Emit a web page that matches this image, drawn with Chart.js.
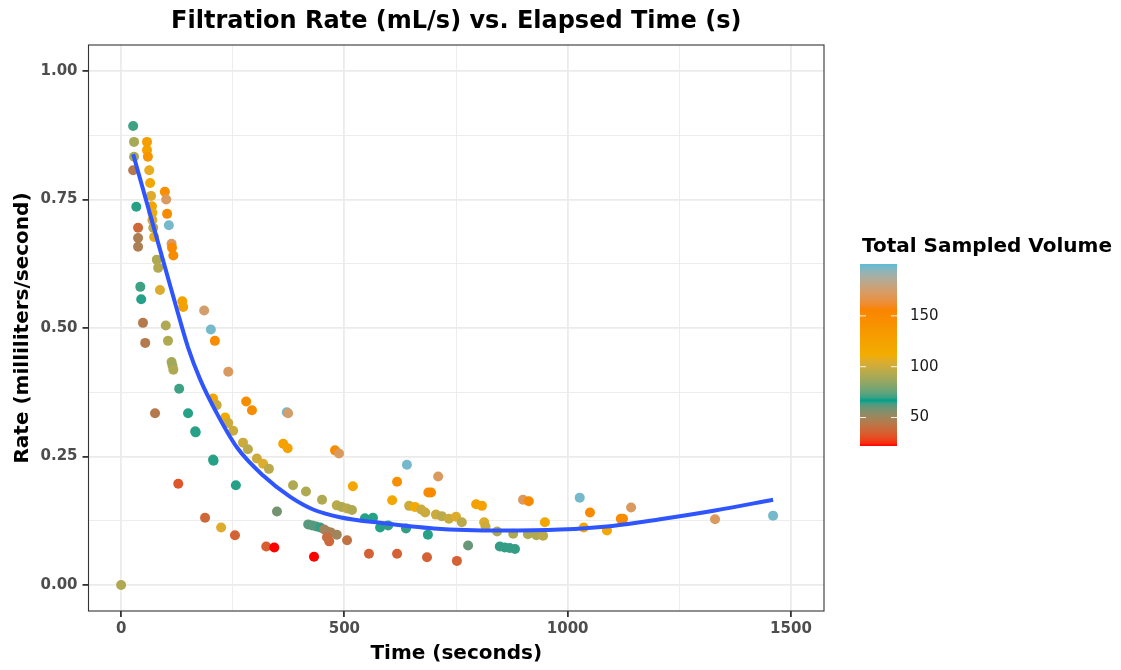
<!DOCTYPE html>
<html>
<head>
<meta charset="utf-8">
<title>Filtration Rate vs. Elapsed Time</title>
<script src="https://cdn.jsdelivr.net/npm/chart.js@4.4.1/dist/chart.umd.min.js"></script>
<style>
  html, body { margin: 0; padding: 0; background: #fff; }
  #wrap { width: 1121px; height: 670px; }
</style>
</head>
<body>
<div id="wrap"><canvas id="rateChart" width="1121" height="670"></canvas></div>
<script>
// elapsed time (s), rate (mL/s) and total sampled volume for each sample
var elapsedTime = [0, 27, 29, 29, 27, 58, 58, 60, 63, 65, 67, 69, 70, 70, 72, 74, 34, 38, 38, 38,
  98, 101, 103, 107, 113, 114, 117, 80, 83, 43, 45, 87, 137, 139, 186, 201, 210, 49, 54, 100,
  105, 113, 115, 117, 130, 240, 76, 150, 166, 167, 206, 214, 280, 293, 233, 240, 251, 273, 284, 304,
  318, 331, 206, 207, 371, 374, 363, 373, 128, 257, 349, 188, 224, 255, 325, 343, 479, 488, 385, 414,
  450, 483, 494, 506, 517, 519, 419, 428, 437, 446, 455, 462, 470, 483, 466, 461, 506, 432, 555, 546,
  564, 580, 598, 638, 687, 640, 618, 607, 710, 688, 694, 645, 658, 672, 681, 705, 718, 734, 750, 763,
  795, 808, 813, 816, 842, 878, 911, 930, 945, 949, 900, 913, 777, 848, 859, 870, 882, 618, 685, 752,
  1027, 1050, 1036, 1088, 1119, 1124, 1142, 1330, 1460];
var filtrationRate = [0.000, 0.893, 0.862, 0.833, 0.807, 0.862, 0.846, 0.833, 0.807, 0.782, 0.757, 0.737, 0.724, 0.710, 0.695, 0.677, 0.736, 0.695, 0.675, 0.658,
  0.765, 0.750, 0.722, 0.700, 0.664, 0.656, 0.641, 0.633, 0.617, 0.580, 0.556, 0.574, 0.552, 0.541, 0.534, 0.497, 0.475, 0.510, 0.471, 0.505,
  0.475, 0.434, 0.427, 0.419, 0.382, 0.415, 0.334, 0.334, 0.299, 0.297, 0.363, 0.350, 0.357, 0.340, 0.326, 0.315, 0.300, 0.277, 0.264, 0.246,
  0.236, 0.226, 0.244, 0.242, 0.336, 0.334, 0.275, 0.266, 0.197, 0.194, 0.143, 0.131, 0.112, 0.097, 0.075, 0.073, 0.262, 0.256, 0.194, 0.182,
  0.166, 0.155, 0.152, 0.149, 0.146, 0.192, 0.118, 0.116, 0.114, 0.112, 0.108, 0.104, 0.102, 0.098, 0.085, 0.093, 0.087, 0.055, 0.061, 0.130,
  0.131, 0.112, 0.116, 0.110, 0.098, 0.234, 0.201, 0.165, 0.211, 0.180, 0.180, 0.154, 0.152, 0.147, 0.141, 0.137, 0.134, 0.129, 0.133, 0.122,
  0.157, 0.154, 0.122, 0.114, 0.104, 0.100, 0.099, 0.097, 0.096, 0.122, 0.166, 0.163, 0.077, 0.075, 0.073, 0.072, 0.070, 0.061, 0.054, 0.047,
  0.170, 0.141, 0.112, 0.106, 0.129, 0.129, 0.151, 0.128, 0.135];
var sampledVolume = [92, 70, 90, 90, 45, 128, 125, 138, 108, 118, 105, 122, 110, 105, 95, 108, 68, 38, 47, 47,
  145, 172, 148, 198, 172, 150, 148, 92, 93, 70, 68, 105, 125, 125, 175, 198, 148, 45, 45, 92,
  92, 90, 88, 92, 70, 172, 45, 68, 70, 68, 120, 100, 148, 148, 115, 100, 100, 100, 95, 100,
  105, 95, 70, 68, 198, 175, 125, 125, 33, 68, 58, 38, 105, 36, 35, 22, 148, 172, 92, 92,
  92, 95, 92, 95, 92, 118, 62, 62, 62, 65, 50, 50, 48, 50, 38, 40, 42, 22, 36, 68,
  68, 68, 65, 65, 68, 198, 145, 118, 172, 148, 150, 100, 115, 100, 100, 100, 95, 100, 105, 95,
  125, 125, 105, 100, 92, 92, 92, 92, 95, 118, 172, 150, 60, 65, 65, 65, 65, 36, 36, 36,
  198, 150, 118, 118, 150, 148, 172, 172, 198];

// smoothed trend
var trendTime = [27, 76, 125, 150, 177, 215, 260, 318, 378, 430, 490, 580, 700, 850, 983, 1100, 1207, 1330, 1460];
var trendRate = [0.838, 0.687, 0.536, 0.462, 0.400, 0.333, 0.267, 0.213, 0.172, 0.147, 0.132, 0.121, 0.110, 0.106, 0.108, 0.115, 0.128, 0.145, 0.166];

// axis ticks and colour bar
var xTickValues = [0, 500, 1000, 1500];
var yTickValues = [0, 0.25, 0.5, 0.75, 1];
var volumeRange = [22, 201];
var volumeTicks = [50, 100, 150];
var palette = ['#FF0000', '#00A08A', '#F2AD00', '#F98400', '#5BBCD6'];

// --- colour helpers (gradient interpolated in Lab, like ggplot) ---
function hexToRgb(h){ return [parseInt(h.substr(1,2),16), parseInt(h.substr(3,2),16), parseInt(h.substr(5,2),16)]; }
function toLin(c){ c = c/255; return c <= 0.04045 ? c/12.92 : Math.pow((c+0.055)/1.055, 2.4); }
function fromLin(c){ c = c <= 0.0031308 ? 12.92*c : 1.055*Math.pow(c, 1/2.4) - 0.055; return Math.round(Math.max(0, Math.min(1, c))*255); }
function labF(t){ return t > 0.008856 ? Math.cbrt(t) : 7.787*t + 16/116; }
function labFi(t){ return t > 0.206893 ? t*t*t : (t - 16/116)/7.787; }
function rgbToLab(rgb){
  var r = toLin(rgb[0]), g = toLin(rgb[1]), b = toLin(rgb[2]);
  var x = (0.4124*r + 0.3576*g + 0.1805*b)/0.95047;
  var y = (0.2126*r + 0.7152*g + 0.0722*b);
  var z = (0.0193*r + 0.1192*g + 0.9505*b)/1.08883;
  var fx = labF(x), fy = labF(y), fz = labF(z);
  return [116*fy - 16, 500*(fx - fy), 200*(fy - fz)];
}
function labToRgb(lab){
  var fy = (lab[0] + 16)/116, fx = fy + lab[1]/500, fz = fy - lab[2]/200;
  var x = labFi(fx)*0.95047, y = labFi(fy), z = labFi(fz)*1.08883;
  var r =  3.2406*x - 1.5372*y - 0.4986*z;
  var g = -0.9689*x + 1.8758*y + 0.0415*z;
  var b =  0.0557*x - 0.2040*y + 1.0570*z;
  return 'rgb(' + fromLin(r) + ',' + fromLin(g) + ',' + fromLin(b) + ')';
}
var paletteLab = palette.map(function(h){ return rgbToLab(hexToRgb(h)); });
function volumeColor(v){
  var f = (v - volumeRange[0])/(volumeRange[1] - volumeRange[0]);
  f = Math.max(0, Math.min(1, f))*(palette.length - 1);
  var i = Math.min(Math.floor(f), palette.length - 2), k = f - i;
  var a = paletteLab[i], b = paletteLab[i+1];
  return labToRgb([a[0] + (b[0]-a[0])*k, a[1] + (b[1]-a[1])*k, a[2] + (b[2]-a[2])*k]);
}

var points = elapsedTime.map(function(t, i){ return {x: t, y: filtrationRate[i]}; });
var pointColors = sampledVolume.map(volumeColor);
var trend = trendTime.map(function(t, i){ return {x: t, y: trendRate[i]}; });

// major + minor gridline positions
function withMinor(major){
  var out = [];
  for (var i = 0; i < major.length; i++){
    out.push(major[i]);
    if (i < major.length - 1) out.push((major[i] + major[i+1])/2);
  }
  return out;
}
var xGrid = withMinor(xTickValues), yGrid = withMinor(yTickValues);
function isMajor(list, v){ return list.some(function(m){ return Math.abs(m - v) < 1e-9; }); }

var FONT = "'DejaVu Sans', sans-serif";

var decorPlugin = {
  id: 'decor',
  afterDatasetsDraw: function(chart){
    var a = chart.chartArea, ctx = chart.ctx;
    ctx.save();
    ctx.strokeStyle = '#333333';
    ctx.lineWidth = 1.1;
    ctx.strokeRect(a.left, a.top, a.right - a.left, a.bottom - a.top);
    ctx.restore();
  },
  afterDraw: function(chart){
    var ctx = chart.ctx, a = chart.chartArea;
    ctx.save();
    // title
    ctx.fillStyle = '#000';
    ctx.font = 'bold 24px ' + FONT;
    ctx.textAlign = 'center';
    ctx.textBaseline = 'alphabetic';
    ctx.fillText('Filtration Rate (mL/s) vs. Elapsed Time (s)', (a.left + a.right)/2, 28);

    // colour bar legend
    var bx = 860, bw = 37, top = 264, bottom = 446;
    ctx.textAlign = 'left';
    ctx.font = 'bold 20px ' + FONT;
    ctx.fillText('Total Sampled Volume', 862, 252);
    var grad = ctx.createLinearGradient(0, bottom, 0, top);
    for (var s = 0; s <= 60; s++){
      var v = volumeRange[0] + (volumeRange[1] - volumeRange[0])*s/60;
      grad.addColorStop(s/60, volumeColor(v));
    }
    ctx.fillStyle = grad;
    ctx.fillRect(bx, top, bw, bottom - top);
    ctx.font = '15px ' + FONT;
    ctx.textBaseline = 'middle';
    volumeTicks.forEach(function(v){
      var y = bottom - (v - volumeRange[0])/(volumeRange[1] - volumeRange[0])*(bottom - top);
      ctx.strokeStyle = 'rgba(255,255,255,0.9)';
      ctx.lineWidth = 1;
      ctx.beginPath();
      ctx.moveTo(bx, y); ctx.lineTo(bx + 6, y);
      ctx.moveTo(bx + bw - 6, y); ctx.lineTo(bx + bw, y);
      ctx.stroke();
      ctx.fillStyle = '#1a1a1a';
      ctx.fillText(String(v), 910, y);
    });
    ctx.restore();
  }
};

new Chart(document.getElementById('rateChart'), {
  type: 'scatter',
  data: {
    datasets: [{
      type: 'line',
      label: 'trend',
      data: trend,
      borderColor: '#2F55FF',
      borderWidth: 4,
      pointRadius: 0,
      fill: false,
      cubicInterpolationMode: 'monotone',
      order: 0
    }, {
      label: 'samples',
      data: points,
      backgroundColor: pointColors,
      borderWidth: 0,
      pointRadius: 5,
      order: 1
    }]
  },
  options: {
    responsive: false,
    animation: false,
    layout: { padding: { left: 0, top: 45, right: 297, bottom: 0 } },
    plugins: { legend: { display: false }, tooltip: { enabled: false } },
    scales: {
      x: {
        type: 'linear',
        min: -73, max: 1574,
        afterBuildTicks: function(s){ s.ticks = xGrid.map(function(v){ return {value: v}; }); },
        afterFit: function(s){ s.height = 59; },
        border: { display: false },
        grid: {
          color: '#EBEBEB',
          lineWidth: function(c){ return isMajor(xTickValues, c.tick.value) ? 1.8 : 0.9; },
          tickColor: function(c){ return isMajor(xTickValues, c.tick.value) ? '#333333' : 'rgba(0,0,0,0)'; },
          tickLength: 6
        },
        ticks: {
          padding: 3,
          color: '#4D4D4D',
          font: { family: FONT, size: 15, weight: 'bold' },
          maxRotation: 0,
          autoSkip: false,
          callback: function(v){ return isMajor(xTickValues, v) ? String(v) : ''; }
        },
        title: { display: true, text: 'Time (seconds)', color: '#000', padding: { top: 0, bottom: 4 },
                 font: { family: FONT, size: 20, weight: 'bold' } }
      },
      y: {
        type: 'linear',
        min: -0.0505, max: 1.0505,
        afterBuildTicks: function(s){ s.ticks = yGrid.map(function(v){ return {value: v}; }); },
        afterFit: function(s){ s.width = 88.5; },
        border: { display: false },
        grid: {
          color: '#EBEBEB',
          lineWidth: function(c){ return isMajor(yTickValues, c.tick.value) ? 1.8 : 0.9; },
          tickColor: function(c){ return isMajor(yTickValues, c.tick.value) ? '#333333' : 'rgba(0,0,0,0)'; },
          tickLength: 6
        },
        ticks: {
          padding: 5,
          color: '#4D4D4D',
          font: { family: FONT, size: 15, weight: 'bold' },
          autoSkip: false,
          callback: function(v){ return isMajor(yTickValues, v) ? v.toFixed(2) : ''; }
        },
        title: { display: true, text: 'Rate (milliliters/second)', color: '#000', padding: { top: 11, bottom: 0 },
                 font: { family: FONT, size: 20, weight: 'bold' } }
      }
    }
  },
  plugins: [decorPlugin]
});
</script>
</body>
</html>
